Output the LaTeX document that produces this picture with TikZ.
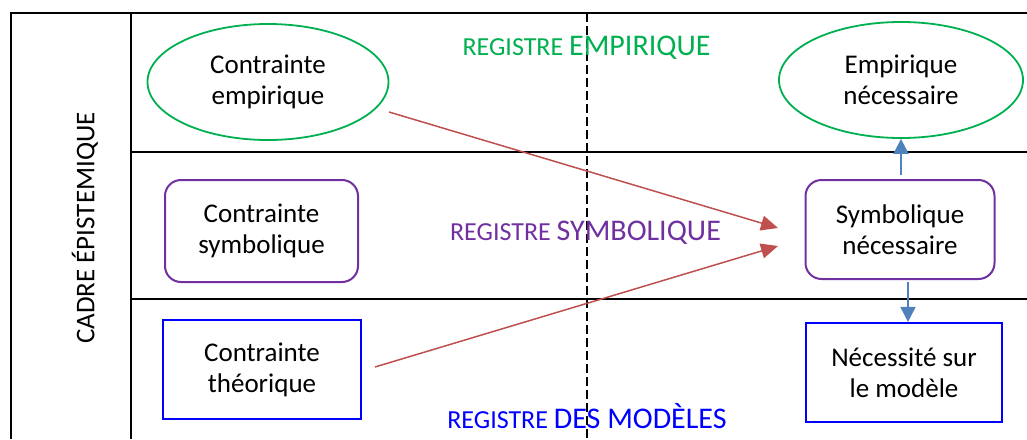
\documentclass[tikz,border=0pt]{standalone}
\usepackage{fontspec}
\setmainfont{Carlito}
\usetikzlibrary{shapes.geometric,arrows.meta}
\definecolor{cgreen}{RGB}{0,176,80}
\definecolor{cpurple}{RGB}{112,48,160}
\definecolor{cblue}{RGB}{0,0,255}
\definecolor{cred}{RGB}{192,80,77}
\definecolor{carrow}{RGB}{79,129,189}
\begin{document}
\begin{tikzpicture}[x=1pt,y=-1pt,
  frameline/.style={line width=1.8pt, draw=black},
  txt/.style={font=\fontsize{27}{31}\selectfont, align=center, text=black, inner sep=0pt},
  ellnode/.style={txt, ellipse, draw=cgreen, line width=1.8pt},
  symnode/.style={txt, rectangle, rounded corners=16pt, draw=cpurple, line width=2pt},
  modnode/.style={txt, rectangle, draw=cblue, line width=2.2pt},
  reglabel/.style={inner sep=0pt, anchor=base},
  redarrow/.style={draw=cred, line width=1.5pt, -{Triangle[length=17pt,width=15pt]}},
  bluearrow/.style={draw=carrow, line width=2pt, -{Triangle[length=15pt,width=15pt]}}
]
\newcommand{\regsmall}{\fontsize{26}{30}\selectfont}
\newcommand{\regbig}{\fontsize{30}{34}\selectfont}
\useasboundingbox (0,0) rectangle (1027,439);
% frame
\draw[frameline] (11,439) -- (11,13) -- (1027,13);
\draw[frameline] (131,13) -- (131,439);
\draw[frameline] (131,152) -- (1027,152);
\draw[frameline] (131,299) -- (1027,299);
\draw[line width=1.8pt, dash pattern=on 9pt off 4pt] (587,13) -- (587,439);
% side label
\node[txt, rotate=90] (cadre) at (85,228) {CADRE ÉPISTEMIQUE};
% register labels
\node[reglabel, text=cgreen] (regemp) at (586.5,55) {\regsmall REGISTRE \regbig EMPIRIQUE};
\node[reglabel, text=cpurple] (regsym) at (585.5,240) {\regsmall REGISTRE \regbig SYMBOLIQUE};
\node[reglabel, text=cblue] (regmod) at (587,428) {\regsmall REGISTRE \regbig DES MODÈLES};
% nodes
\node[ellnode, minimum width=241pt, minimum height=116pt] (ce) at (268,82) {Contrainte\\empirique};
\node[ellnode, minimum width=244pt, minimum height=116pt] (en) at (901,80) {Empirique\\nécessaire};
\node[symnode, minimum width=193pt, minimum height=102pt] (cs) at (261.5,231) {Contrainte\\symbolique};
\node[symnode, minimum width=189pt, minimum height=99pt] (sn) at (900,229.5) {Symbolique\\nécessaire};
\node[modnode, minimum width=198pt, minimum height=99pt] (ct) at (262,369.5) {Contrainte\\théorique};
\node[modnode, minimum width=196pt, minimum height=99pt] (nm) at (904,372.5) {Nécessité sur\\le modèle};
% free ends
\coordinate (r1s) at (389,112);
\coordinate (r1e) at (778,228);
\coordinate (r2s) at (375,367);
\coordinate (r2e) at (778,246);
\coordinate (b1s) at (901,175);
\coordinate (b2s) at (908,282);
% connectors
\draw[redarrow] (r1s) -- (r1e);
\draw[redarrow] (r2s) -- (r2e);
\draw[bluearrow] (b1s) -- (b1s |- en.south);
\draw[bluearrow] (b2s) -- (b2s |- nm.north);
\end{tikzpicture}
\end{document}
